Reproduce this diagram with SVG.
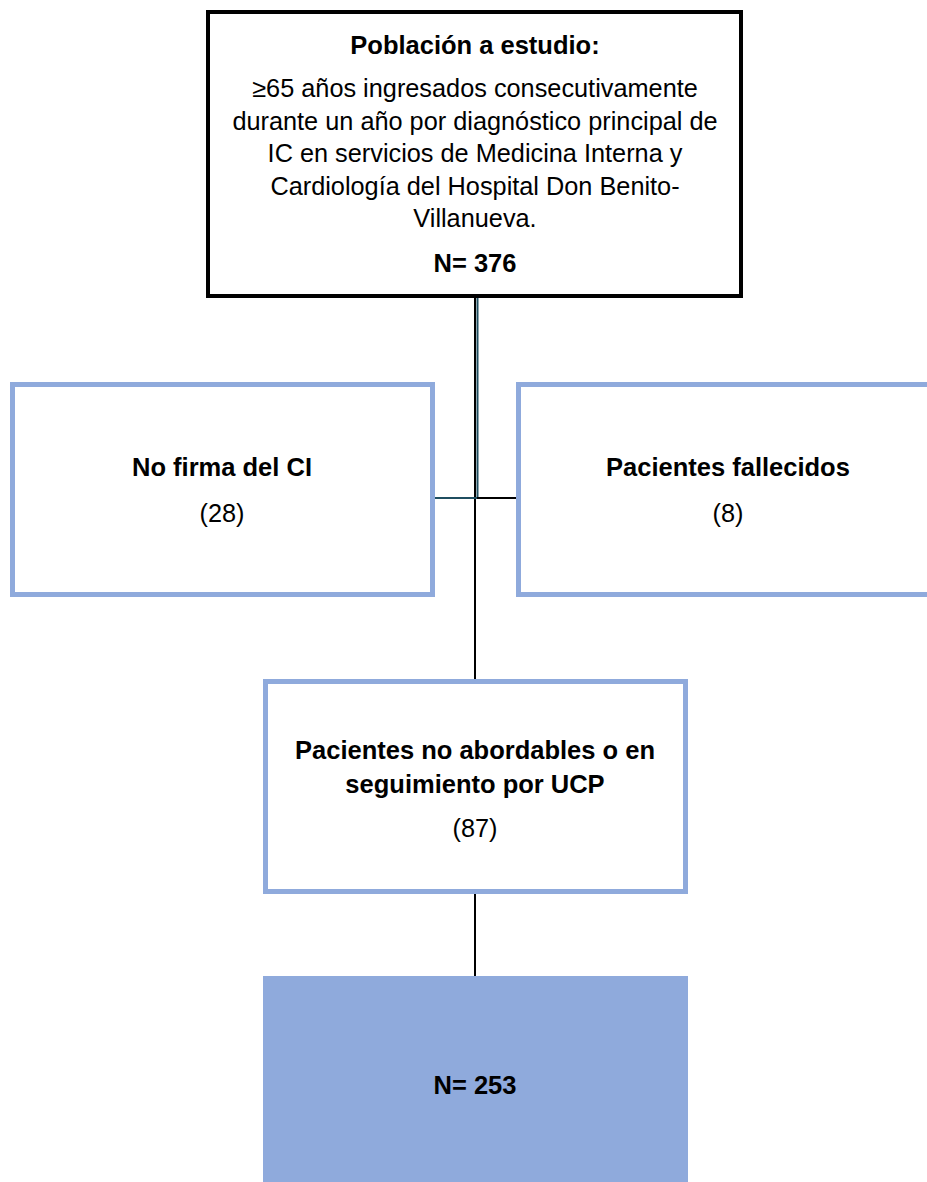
<svg xmlns="http://www.w3.org/2000/svg" width="927" height="1182" viewBox="0 0 927 1182">
  <style>
    text { font-family: "Liberation Sans", Arial, sans-serif; fill: #000; text-anchor: middle; }
    .t { font-size: 25.3px; }
    .b { font-size: 25.5px; font-weight: bold; }
    .main { fill: #fff; stroke: #000; stroke-width: 4; }
    .side { fill: #fff; stroke: #8faadc; stroke-width: 5; }
    .final { fill: #8faadc; }
    .ln { stroke: #000; stroke-width: 2; fill: none; }
    .ln2 { stroke: #1f4e60; stroke-width: 2; fill: none; }
  </style>

  <!-- connectors -->
  <g id="connectors">
    <line class="ln" x1="475" y1="298" x2="475" y2="681"/>
    <line class="ln2" x1="477.5" y1="298" x2="477.5" y2="498"/>
    <line class="ln2" x1="435" y1="498" x2="477" y2="498"/>
    <line class="ln" x1="477" y1="498" x2="516" y2="498"/>
    <line class="ln" x1="475" y1="894" x2="475" y2="976"/>
  </g>

  <!-- study population -->
  <g id="poblacion">
    <rect class="main" x="208" y="12" width="533" height="284"/>
    <text class="b" x="475" y="54">Población a estudio:</text>
    <text class="t" x="475" y="97">≥65 años ingresados consecutivamente</text>
    <text class="t" x="475" y="129.5">durante un año por diagnóstico principal de</text>
    <text class="t" x="475" y="162">IC en servicios de Medicina Interna y</text>
    <text class="t" x="475" y="194.5">Cardiología del Hospital Don Benito-</text>
    <text class="t" x="475" y="227">Villanueva.</text>
    <text class="b" x="475" y="272">N= 376</text>
  </g>

  <!-- exclusions -->
  <g id="no-firma">
    <rect class="side" x="12.5" y="384.5" width="420" height="210"/>
    <text class="b" x="222" y="476">No firma del CI</text>
    <text class="t" x="222" y="522">(28)</text>
  </g>

  <g id="fallecidos">
    <rect class="side" x="518.5" y="384.5" width="420" height="210"/>
    <text class="b" x="728" y="476">Pacientes fallecidos</text>
    <text class="t" x="728" y="522">(8)</text>
  </g>

  <g id="no-abordables">
    <rect class="side" x="265.5" y="681.5" width="420" height="210"/>
    <text class="b" x="475" y="759">Pacientes no abordables o en</text>
    <text class="b" x="475" y="793">seguimiento por UCP</text>
    <text class="t" x="475" y="837">(87)</text>
  </g>

  <!-- final sample -->
  <g id="muestra">
    <rect class="final" x="263" y="976" width="425" height="210"/>
    <text class="b" x="475" y="1094">N= 253</text>
  </g>
</svg>
